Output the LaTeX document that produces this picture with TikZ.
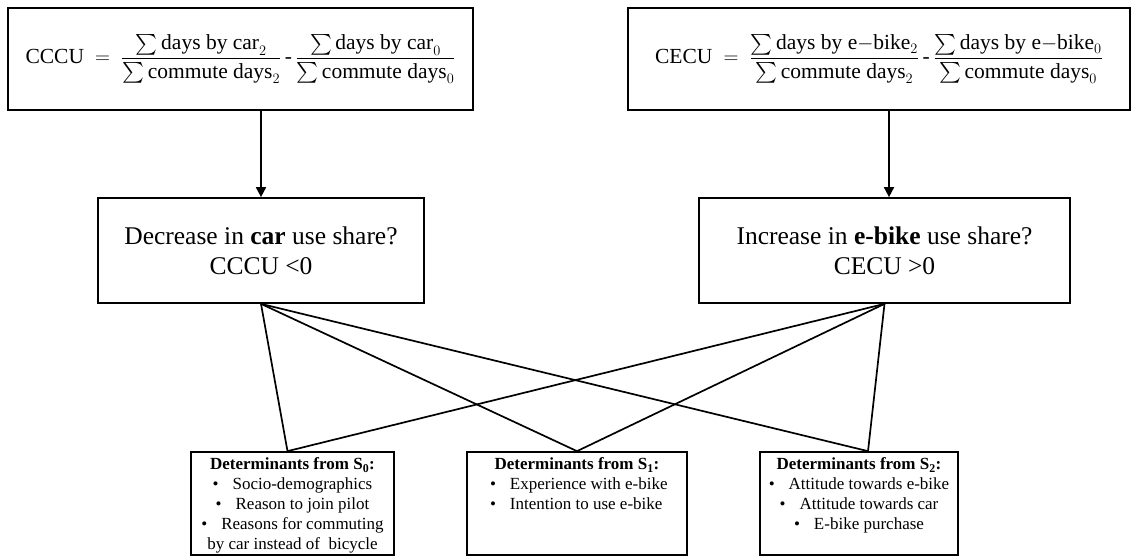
\documentclass[tikz,border=0pt]{standalone}
\usepackage{amsmath}
\usepackage{fontspec}
\setmainfont{Liberation Serif}
\usetikzlibrary{arrows.meta,calc}
\tikzset{
  box/.style={draw, line width=1.7pt, inner sep=0pt, align=center},
  conn/.style={line width=1.7pt},
  arr/.style={line width=1.7pt, -{Triangle[width=10pt,length=10pt]}},
  botbox/.style={box, minimum height=103pt, inner ysep=6pt, font=\fontsize{17}{20}\selectfont},
}
\newcommand{\bul}{\textbullet\hspace{14pt}}
\begin{document}
\begin{tikzpicture}[x=1pt,y=-1pt]
\useasboundingbox (0,0) rectangle (1131,556);
\node[box, minimum width=465pt, minimum height=102pt] (top1) at (240.5,59)
  {\fontsize{21.5}{25}\selectfont
   $\text{CCCU}\ =\ \dfrac{\textstyle\sum\text{days by car}_{2}}{\textstyle\sum\text{commute days}_{2}}\,\text{-}\,\dfrac{\textstyle\sum\text{days by car}_{0}}{\textstyle\sum\text{commute days}_{0}}$};
\node[box, minimum width=502pt, minimum height=102pt] (top2) at (879,59)
  {\fontsize{21.5}{25}\selectfont
   $\text{CECU}\ =\ \dfrac{\textstyle\sum\text{days by e}{-}\text{bike}_{2}}{\textstyle\sum\text{commute days}_{2}}\,\text{-}\,\dfrac{\textstyle\sum\text{days by e}{-}\text{bike}_{0}}{\textstyle\sum\text{commute days}_{0}}$};
\node[box, minimum width=326pt, minimum height=105pt, font=\fontsize{25.5}{30}\selectfont] (mid1) at (261,250.5)
  {Decrease in \textbf{car} use share?\\CCCU <0};
\node[box, minimum width=371pt, minimum height=105pt, font=\fontsize{25.5}{30}\selectfont] (mid2) at (884.5,250.5)
  {Increase in \textbf{e-bike} use share?\\CECU >0};
\node[botbox, minimum width=203pt] (bot1) at (292.5,503.5)
  {\parbox[c][91pt][t]{199pt}{\centering
   \textbf{Determinants from S\textsubscript{0}:}\\
   \bul Socio-demographics\\
   \bul Reason to join pilot\\
   \bul Reasons for commuting\\
   by car instead of\ \ bicycle}};
\node[botbox, minimum width=220pt] (bot2) at (577,503.5)
  {\parbox[c][91pt][t]{216pt}{\centering
   \textbf{Determinants from S\textsubscript{1}:}\\
   \raggedright\hspace*{21pt}\bul Experience with e-bike\\
   \hspace*{21pt}\bul Intention to use e-bike}};
\node[botbox, minimum width=198pt] (bot3) at (859,503.5)
  {\parbox[c][91pt][t]{194pt}{\centering
   \textbf{Determinants from S\textsubscript{2}:}\\
   \bul Attitude towards e-bike\\
   \bul Attitude towards car\\
   \bul E-bike purchase}};
\draw[arr] (mid1.north |- top1.south) -- (mid1.north);
\draw[arr] ($(mid2.north |- top2.south)+(4.5,0)$) -- ($(mid2.north)+(4.5,0)$);
\foreach \m in {mid1,mid2}{
  \draw[conn] (\m.south) -- ($(bot1.north)+(-5,0)$);
  \draw[conn] (\m.south) -- (bot2.north);
  \draw[conn] (\m.south) -- ($(bot3.north)+(9,0)$);
}
\end{tikzpicture}
\end{document}
